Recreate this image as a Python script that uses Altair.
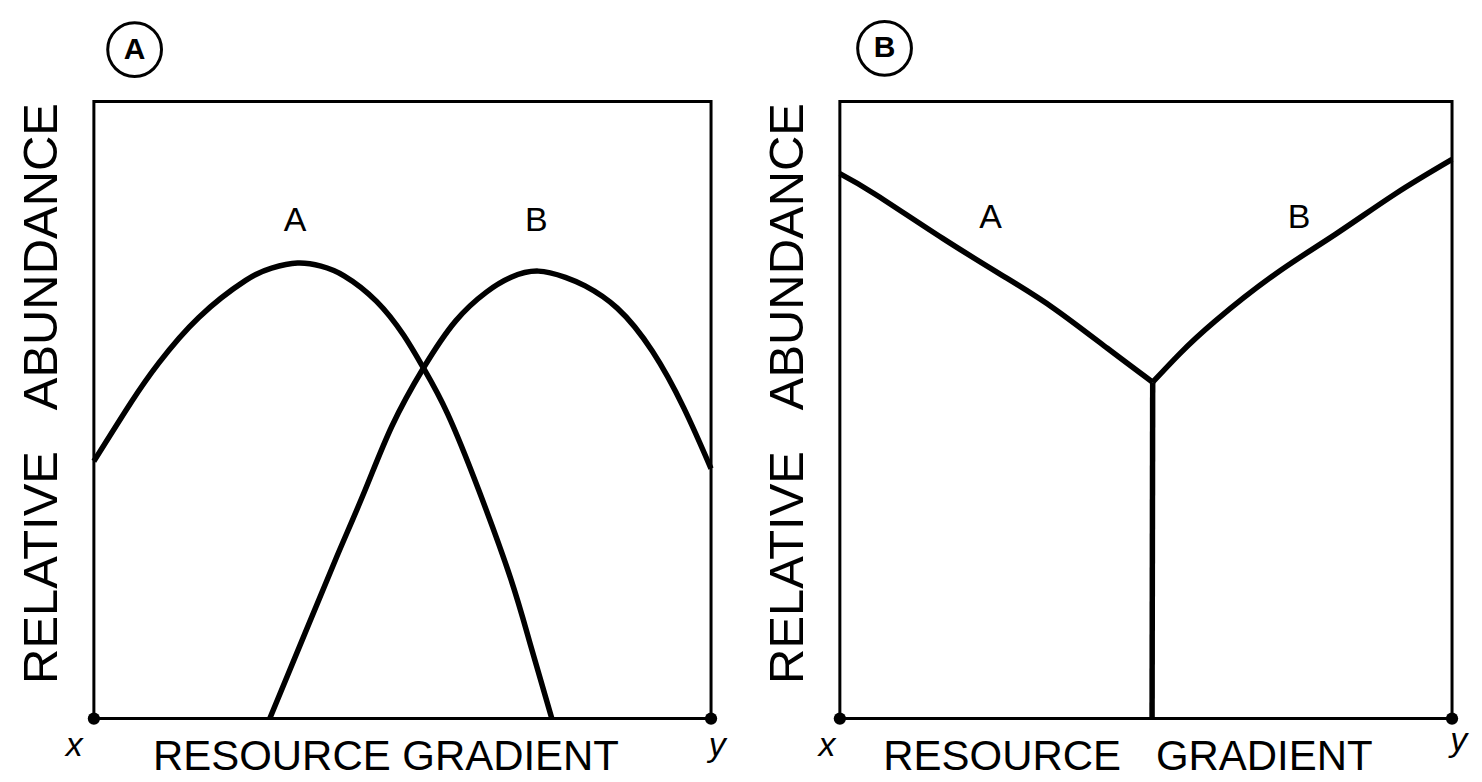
import altair as alt
import pandas as pd

# ---------------- data (box-normalised 0-100 coordinates) ----------------
# Panel A: two bell-shaped response curves
pa_A_x = [0, 6.07, 10.5, 17.0, 24.6, 28.8, 33.0, 36.8, 40.6, 45.8, 50.2, 53.4, 57.3, 62.4, 67.5, 70.7, 74.2]
pa_A_y = [41.7, 51.3, 57.6, 65.0, 71.0, 73.0, 73.8, 73.3, 71.7, 67.6, 62.1, 56.8, 49.4, 36.9, 22.8, 12.1, 0]
pa_B_x = [28.5, 34.2, 39.3, 43.9, 48.3, 53.4, 58.6, 63.6, 67.6, 72.0, 76.4, 79.6, 84.8, 90.5, 95.6, 100]
pa_B_y = [0, 13.8, 26.1, 36.9, 47.4, 56.8, 64.4, 69.1, 71.5, 72.5, 71.5, 70.1, 66.5, 59.5, 50.3, 40.5]

# Panel B: two branches meeting at a junction, with a vertical stem
pb_A_x = [0, 5.7, 16.8, 27.2, 35.2, 43.7, 51.1]
pb_A_y = [88.3, 85.0, 77.8, 71.4, 66.3, 60.0, 54.5]
pb_B_x = [51.1, 55.5, 61.3, 71.1, 81.0, 90.7, 100]
pb_B_y = [54.5, 59.1, 64.4, 72.0, 78.5, 85.0, 90.6]
pb_S_x = [51.0, 51.1]
pb_S_y = [0, 54.5]

# curve labels
pa_lab_text = ["A", "B"]
pa_lab_x = [32.6, 71.7]
pa_lab_y = [80.6, 80.6]
pb_lab_text = ["A", "B"]
pb_lab_x = [24.6, 75.0]
pb_lab_y = [81.1, 81.1]

# panel badges (circled letters)
badge_text = ["A", "B"]
badge_x = [6.6, 7.3]
badge_y = [108.4, 108.6]

# gradient end labels
end_text = ["x", "y"]
pa_end_x = [-3.2, 101.0]
pa_end_y = [-4.4, -4.4]
pb_end_x = [-2.1, 101.1]
pb_end_y = [-4.4, -3.6]
corner_x = [0, 100]
corner_y = [0, 0]

y_title = "RELATIVE\u00a0\u00a0\u00a0ABUNDANCE"
x_title_a = "RESOURCE GRADIENT"
x_title_b = "RESOURCE\u00a0\u00a0\u00a0GRADIENT"

FONT = "Liberation Sans"


def series_df(pairs):
    rows = []
    for name, xs, ys in pairs:
        for i, (xv, yv) in enumerate(zip(xs, ys)):
            rows.append({"series": name, "i": i, "x": xv, "y": yv})
    return pd.DataFrame(rows)


def panel(curves, lab_t, lab_x, lab_y, badge_idx, end_x, end_y, x_title, width, xtitle_x):
    xs = alt.Scale(domain=[0, 100], nice=False, zero=False)
    ys = alt.Scale(domain=[0, 100], nice=False, zero=False)
    x_axis = alt.Axis(domain=False, ticks=False, labels=False, grid=False,
                      title=x_title, titleFont=FONT, titleFontSize=42,
                      titleFontWeight="normal", titleColor="black",
                      titleX=xtitle_x, titleY=51, titleBaseline="alphabetic",
                      titleAlign="center")
    y_axis = alt.Axis(domain=False, ticks=False, labels=False, grid=False,
                      title=y_title, titleFont=FONT, titleFontSize=49,
                      titleFontWeight="normal", titleColor="black",
                      titleX=-37, titleY=292, titleAngle=270,
                      titleBaseline="alphabetic", titleAlign="center")

    lines = alt.Chart(series_df(curves)).mark_line(
        color="black", strokeWidth=5.5, interpolate="natural", strokeJoin="round"
    ).encode(
        x=alt.X("x:Q", scale=xs, axis=x_axis),
        y=alt.Y("y:Q", scale=ys, axis=y_axis),
        detail="series:N",
        order="i:Q",
    )

    labels = alt.Chart(pd.DataFrame({"t": lab_t, "x": lab_x, "y": lab_y})).mark_text(
        font=FONT, fontSize=34, color="black", baseline="middle"
    ).encode(x=alt.X("x:Q", scale=xs), y=alt.Y("y:Q", scale=ys), text="t:N")

    bdf = pd.DataFrame({"t": [badge_text[badge_idx]], "x": [badge_x[badge_idx]],
                        "y": [badge_y[badge_idx]]})
    badge_ring = alt.Chart(bdf).mark_point(
        shape="circle", filled=False, size=2900, strokeWidth=3, color="black", opacity=1
    ).encode(x=alt.X("x:Q", scale=xs), y=alt.Y("y:Q", scale=ys))
    badge_txt = alt.Chart(bdf).mark_text(
        font=FONT, fontSize=30, fontWeight="bold", color="black", baseline="middle"
    ).encode(x=alt.X("x:Q", scale=xs), y=alt.Y("y:Q", scale=ys), text="t:N")

    dots = alt.Chart(pd.DataFrame({"x": corner_x, "y": corner_y})).mark_point(
        shape="circle", filled=True, size=150, color="black", opacity=1
    ).encode(x=alt.X("x:Q", scale=xs), y=alt.Y("y:Q", scale=ys))

    ends = alt.Chart(pd.DataFrame({"t": end_text, "x": end_x, "y": end_y})).mark_text(
        font=FONT, fontSize=34, fontStyle="italic", color="black", baseline="middle"
    ).encode(x=alt.X("x:Q", scale=xs), y=alt.Y("y:Q", scale=ys), text="t:N")

    return alt.layer(lines, labels, badge_ring, badge_txt, dots, ends).properties(
        width=width, height=618
    )


panel_a = panel(
    [("A", pa_A_x, pa_A_y), ("B", pa_B_x, pa_B_y)],
    pa_lab_text, pa_lab_x, pa_lab_y, 0, pa_end_x, pa_end_y, x_title_a, 618, 292,
)
panel_b = panel(
    [("A", pb_A_x, pb_A_y), ("B", pb_B_x, pb_B_y), ("S", pb_S_x, pb_S_y)],
    pb_lab_text, pb_lab_x, pb_lab_y, 1, pb_end_x, pb_end_y, x_title_b, 613, 288,
)

chart = alt.hconcat(panel_a, panel_b, spacing=34).properties(
    padding={"left": 8, "top": 5, "right": 5, "bottom": 5},
    background="white",
).configure_view(stroke="black", strokeWidth=3)

chart.save("out.html", embed_options={"renderer": "svg", "actions": False})
